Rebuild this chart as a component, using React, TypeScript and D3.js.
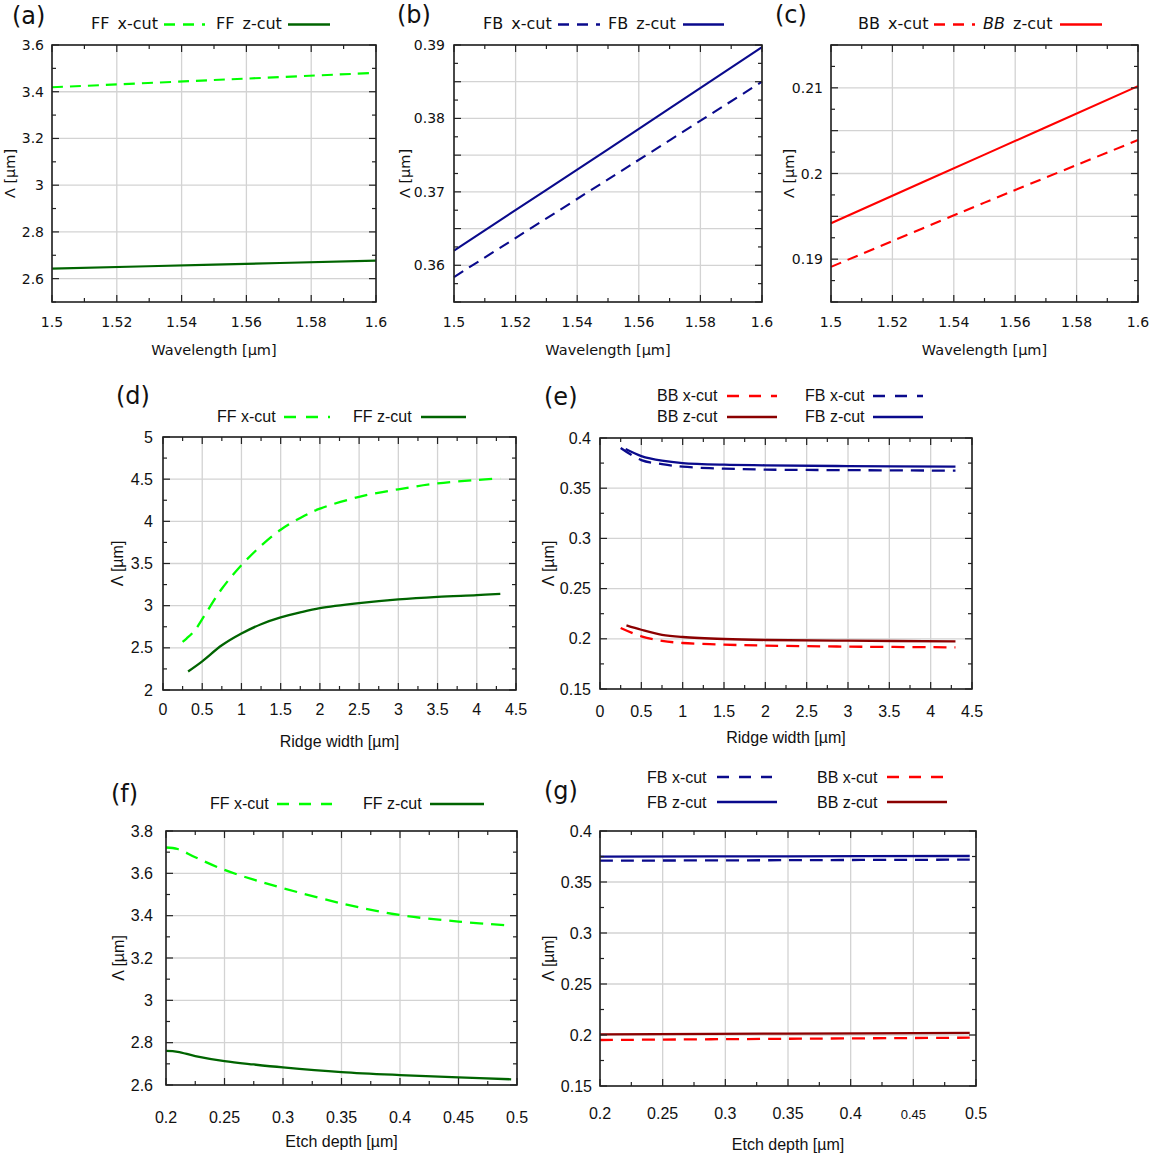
import * as d3 from 'd3';

// ---- colours ----
const GREEN = '#00ff00';
const DKGREEN = '#006400';
const NAVY = '#0a0a8c';
const RED = '#ff0000';
const DKRED = '#8b0000';

// ---- (a)(b)(c) wavelength sweeps ----
const wavelength = [1.5, 1.55, 1.6];
const ffXcutWl = [3.419, 3.45, 3.481];
const ffZcutWl = [2.643, 2.66, 2.677];
const fbXcutWl = [0.3584, 0.3717, 0.385];
const fbZcutWl = [0.362, 0.3758, 0.3897];
const bbXcutWl = [0.1891, 0.1966, 0.2039];
const bbZcutWl = [0.1942, 0.2022, 0.2102];

// ---- (d)(e) ridge width sweeps ----
const widthFFx = [0.25, 0.3, 0.4, 0.5, 0.75, 1, 1.25, 1.5, 1.75, 2, 2.5, 3, 3.5, 4, 4.3];
const ffXcutW = [2.57, 2.61, 2.7, 2.84, 3.2, 3.48, 3.71, 3.9, 4.04, 4.15, 4.29, 4.38, 4.45, 4.49, 4.51];
const widthFFz = [0.32, 0.5, 0.75, 1, 1.25, 1.5, 1.75, 2, 2.5, 3, 3.5, 4, 4.3];
const ffZcutW = [2.22, 2.34, 2.53, 2.67, 2.78, 2.86, 2.92, 2.97, 3.03, 3.075, 3.105, 3.125, 3.14];
const widthX = [0.25, 0.5, 0.75, 1, 1.5, 2, 3, 4.3];
const widthZ = [0.31, 0.5, 0.75, 1, 1.5, 2, 3, 4.3];
const widthBBz = [0.32, 0.5, 0.75, 1, 1.5, 2, 3, 4.3];
const fbXcutW = [0.39, 0.378, 0.374, 0.3714, 0.3695, 0.3685, 0.368, 0.3675];
const fbZcutW = [0.389, 0.382, 0.3774, 0.375, 0.3734, 0.3728, 0.372, 0.3714];
const bbXcutW = [0.2108, 0.2025, 0.198, 0.1958, 0.1942, 0.1932, 0.1922, 0.1915];
const bbZcutW = [0.2134, 0.209, 0.204, 0.2018, 0.1998, 0.1988, 0.1981, 0.1975];

// ---- (f)(g) etch depth sweeps ----
const depthF = [0.2, 0.21, 0.225, 0.25, 0.275, 0.3, 0.35, 0.4, 0.45, 0.495];
const ffXcutD = [3.722, 3.715, 3.676, 3.616, 3.57, 3.53, 3.458, 3.403, 3.372, 3.353];
const ffZcutD = [2.761, 2.757, 2.737, 2.713, 2.697, 2.683, 2.661, 2.647, 2.636, 2.627];
const depthG = [0.2, 0.35, 0.495];
const fbZcutD = [0.3748, 0.3752, 0.3755];
const fbXcutD = [0.3709, 0.3714, 0.3719];
const bbZcutD = [0.2007, 0.2014, 0.202];
const bbXcutD = [0.1951, 0.1963, 0.1974];

// ---- tick labels ----
const wlTicks = [1.5, 1.52, 1.54, 1.56, 1.58, 1.6];
const ffWlTicks = [2.6, 2.8, 3, 3.2, 3.4, 3.6];
const fbWlTicks = [0.36, 0.37, 0.38, 0.39];
const bbWlTicks = [0.19, 0.2, 0.21];
const widthTicks = [0, 0.5, 1, 1.5, 2, 2.5, 3, 3.5, 4, 4.5];
const ffWTicks = [2, 2.5, 3, 3.5, 4, 4.5, 5];
const smallTicks = [0.15, 0.2, 0.25, 0.3, 0.35, 0.4];
const depthTicks = [0.2, 0.25, 0.3, 0.35, 0.4, 0.45, 0.5];
const ffDTicks = [2.6, 2.8, 3, 3.2, 3.4, 3.6, 3.8];

type Series = { xs: number[]; ys: number[]; color: string; dashed: boolean };
type Legend = { label: any; tx: number; ty: number; sx0: number; sx1: number; sy: number; color: string; dashed: boolean };
type PanelSpec = {
  letter: string; lx: number; ly: number;
  box: [number, number, number, number];
  xDomain: [number, number]; yDomain: [number, number];
  xLabels: number[]; yLabels: number[];
  xGrid: number; xMinor: number; yGrid: number; yMinor: number;
  font: string; tickSize: number; titleSize: number; legendSize: number;
  xTitle: string; xTitleOff: number; xTickOff: number; yTitleX: number; yTickGap: number;
  dash: string; legDash: string; lw: number;
  series: Series[]; legend: Legend[];
  smallLabel?: number;
};

const DV = 'DejaVu Sans';
const LS = 'Liberation Sans, Arial, sans-serif';

const top = { font: DV, tickSize: 14, titleSize: 14.5, legendSize: 16, xTitleOff: 53, xTickOff: 25, dash: '11,7', legDash: '11,8', lw: 2.1 };
const low = { font: LS, tickSize: 16, titleSize: 16, legendSize: 16, dash: '13,8', legDash: '12,10', lw: 2.3 };

const panels: PanelSpec[] = [
  {
    ...top, letter: '(a)', lx: 12, ly: 24, box: [52, 45, 376, 302],
    xDomain: [1.5, 1.6], yDomain: [2.5, 3.6], xLabels: wlTicks, yLabels: ffWlTicks,
    xGrid: 0.02, xMinor: 0.01, yGrid: 0.2, yMinor: 0.1,
    xTitle: 'Wavelength [µm]', yTitleX: 15, yTickGap: 8,
    series: [
      { xs: wavelength, ys: ffXcutWl, color: GREEN, dashed: true },
      { xs: wavelength, ys: ffZcutWl, color: DKGREEN, dashed: false },
    ],
    legend: [
      { label: 'FF x-cut', tx: 91, ty: 29, sx0: 164, sx1: 205, sy: 24.5, color: GREEN, dashed: true },
      { label: 'FF z-cut', tx: 216, ty: 29, sx0: 288, sx1: 330, sy: 24.5, color: DKGREEN, dashed: false },
    ],
  },
  {
    ...top, letter: '(b)', lx: 397, ly: 23, box: [454, 45, 762, 302],
    xDomain: [1.5, 1.6], yDomain: [0.355, 0.39], xLabels: wlTicks, yLabels: fbWlTicks,
    xGrid: 0.02, xMinor: 0.01, yGrid: 0.005, yMinor: 0.0025,
    xTitle: 'Wavelength [µm]', yTitleX: 410, yTickGap: 9,
    series: [
      { xs: wavelength, ys: fbXcutWl, color: NAVY, dashed: true },
      { xs: wavelength, ys: fbZcutWl, color: NAVY, dashed: false },
    ],
    legend: [
      { label: 'FB x-cut', tx: 483, ty: 29, sx0: 558, sx1: 600, sy: 24.5, color: NAVY, dashed: true },
      { label: 'FB z-cut', tx: 608, ty: 29, sx0: 683, sx1: 724, sy: 24.5, color: NAVY, dashed: false },
    ],
  },
  {
    ...top, letter: '(c)', lx: 775, ly: 23, box: [831, 45, 1138, 302],
    xDomain: [1.5, 1.6], yDomain: [0.185, 0.215], xLabels: wlTicks, yLabels: bbWlTicks,
    xGrid: 0.02, xMinor: 0.01, yGrid: 0.005, yMinor: 0.0025,
    xTitle: 'Wavelength [µm]', yTitleX: 794, yTickGap: 8,
    series: [
      { xs: wavelength, ys: bbXcutWl, color: RED, dashed: true },
      { xs: wavelength, ys: bbZcutWl, color: RED, dashed: false },
    ],
    legend: [
      { label: 'BB x-cut', tx: 858, ty: 29, sx0: 934, sx1: 975, sy: 24.5, color: RED, dashed: true },
      { label: [<tspan key="i" fontStyle="italic">BB</tspan>, ' z-cut'], tx: 983, ty: 29, sx0: 1060, sx1: 1102, sy: 24.5, color: RED, dashed: false },
    ],
  },
  {
    ...low, letter: '(d)', lx: 116, ly: 404, box: [163, 437, 516, 690],
    xDomain: [0, 4.5], yDomain: [2, 5], xLabels: widthTicks, yLabels: ffWTicks,
    xGrid: 0.5, xMinor: 0.25, yGrid: 0.5, yMinor: 0.25,
    xTitle: 'Ridge width [µm]', xTitleOff: 57, xTickOff: 25, yTitleX: 123, yTickGap: 10,
    series: [
      { xs: widthFFx, ys: ffXcutW, color: GREEN, dashed: true },
      { xs: widthFFz, ys: ffZcutW, color: DKGREEN, dashed: false },
    ],
    legend: [
      { label: 'FF x-cut', tx: 217, ty: 422, sx0: 284, sx1: 330, sy: 417, color: GREEN, dashed: true },
      { label: 'FF z-cut', tx: 353, ty: 422, sx0: 421, sx1: 466, sy: 417, color: DKGREEN, dashed: false },
    ],
  },
  {
    ...low, letter: '(e)', lx: 544, ly: 405, box: [600, 438, 972, 689],
    xDomain: [0, 4.5], yDomain: [0.15, 0.4], xLabels: widthTicks, yLabels: smallTicks,
    xGrid: 0.5, xMinor: 0.25, yGrid: 0.05, yMinor: 0.025,
    xTitle: 'Ridge width [µm]', xTitleOff: 54, xTickOff: 28, yTitleX: 554, yTickGap: 9,
    series: [
      { xs: widthX, ys: fbXcutW, color: NAVY, dashed: true },
      { xs: widthZ, ys: fbZcutW, color: NAVY, dashed: false },
      { xs: widthX, ys: bbXcutW, color: RED, dashed: true },
      { xs: widthBBz, ys: bbZcutW, color: DKRED, dashed: false },
    ],
    legend: [
      { label: 'BB x-cut', tx: 657, ty: 401, sx0: 727, sx1: 777, sy: 396, color: RED, dashed: true },
      { label: 'BB z-cut', tx: 657, ty: 422, sx0: 727, sx1: 777, sy: 417, color: DKRED, dashed: false },
      { label: 'FB x-cut', tx: 805, ty: 401, sx0: 873, sx1: 923, sy: 396, color: NAVY, dashed: true },
      { label: 'FB z-cut', tx: 805, ty: 422, sx0: 873, sx1: 923, sy: 417, color: NAVY, dashed: false },
    ],
  },
  {
    ...low, letter: '(f)', lx: 111, ly: 802, box: [166, 831, 517, 1085],
    xDomain: [0.2, 0.5], yDomain: [2.6, 3.8], xLabels: depthTicks, yLabels: ffDTicks,
    xGrid: 0.05, xMinor: 0.025, yGrid: 0.2, yMinor: 0.1,
    xTitle: 'Etch depth [µm]', xTitleOff: 62, xTickOff: 38, yTitleX: 124, yTickGap: 13,
    series: [
      { xs: depthF, ys: ffXcutD, color: GREEN, dashed: true },
      { xs: depthF, ys: ffZcutD, color: DKGREEN, dashed: false },
    ],
    legend: [
      { label: 'FF x-cut', tx: 210, ty: 809, sx0: 277, sx1: 332, sy: 804, color: GREEN, dashed: true },
      { label: 'FF z-cut', tx: 363, ty: 809, sx0: 430, sx1: 484, sy: 804, color: DKGREEN, dashed: false },
    ],
  },
  {
    ...low, letter: '(g)', lx: 544, ly: 799, box: [600, 831, 976, 1086],
    xDomain: [0.2, 0.5], yDomain: [0.15, 0.4], xLabels: depthTicks, yLabels: smallTicks,
    xGrid: 0.05, xMinor: 0.025, yGrid: 0.05, yMinor: 0.025,
    xTitle: 'Etch depth [µm]', xTitleOff: 64, xTickOff: 33, yTitleX: 554, yTickGap: 8,
    smallLabel: 0.45,
    series: [
      { xs: depthG, ys: fbXcutD, color: NAVY, dashed: true },
      { xs: depthG, ys: fbZcutD, color: NAVY, dashed: false },
      { xs: depthG, ys: bbXcutD, color: RED, dashed: true },
      { xs: depthG, ys: bbZcutD, color: DKRED, dashed: false },
    ],
    legend: [
      { label: 'FB x-cut', tx: 647, ty: 783, sx0: 717, sx1: 772, sy: 777, color: NAVY, dashed: true },
      { label: 'FB z-cut', tx: 647, ty: 808, sx0: 717, sx1: 777, sy: 802, color: NAVY, dashed: false },
      { label: 'BB x-cut', tx: 817, ty: 783, sx0: 887, sx1: 943, sy: 777, color: RED, dashed: true },
      { label: 'BB z-cut', tx: 817, ty: 808, sx0: 887, sx1: 947, sy: 802, color: DKRED, dashed: false },
    ],
  },
];

const steps = (dom: [number, number], step: number) =>
  d3.range(Math.round(dom[0] / step), Math.round(dom[1] / step) + 1).map(i => +(i * step).toFixed(6));

const fmt = (v: number) => String(+v.toFixed(4));

function Panel({ p }: { p: PanelSpec }) {
  const [x0, y0, x1, y1] = p.box;
  const x = d3.scaleLinear().domain(p.xDomain).range([x0, x1]);
  const y = d3.scaleLinear().domain(p.yDomain).range([y1, y0]);
  const line = d3.line<[number, number]>()
    .x(d => x(d[0]))
    .y(d => y(d[1]))
    .curve(d3.curveCatmullRom.alpha(0.5));

  const xMaj = steps(p.xDomain, p.xGrid);
  const yMaj = steps(p.yDomain, p.yGrid);
  const xMin = steps(p.xDomain, p.xMinor);
  const yMin = steps(p.yDomain, p.yMinor);
  const major = 7, minor = 4;
  const tickStroke = '#222';

  return (
    <g fontFamily={p.font}>
      {/* grid */}
      {xMaj.map(v => (
        <line key={'gx' + v} x1={x(v)} x2={x(v)} y1={y0} y2={y1} stroke="#d3d3d3" strokeWidth={1.3} />
      ))}
      {yMaj.map(v => (
        <line key={'gy' + v} x1={x0} x2={x1} y1={y(v)} y2={y(v)} stroke="#d3d3d3" strokeWidth={1.3} />
      ))}

      {/* curves */}
      {p.series.map((s, i) => (
        <path
          key={'s' + i}
          d={line(s.xs.map((xv, j) => [xv, s.ys[j]] as [number, number])) || ''}
          fill="none"
          stroke={s.color}
          strokeWidth={p.lw}
          strokeDasharray={s.dashed ? p.dash : undefined}
        />
      ))}

      {/* ticks on all four sides */}
      {xMin.map(v => {
        const len = xMaj.some(m => Math.abs(m - v) < 1e-9) ? major : minor;
        return (
          <g key={'tx' + v} stroke={tickStroke} strokeWidth={1.2}>
            <line x1={x(v)} x2={x(v)} y1={y1} y2={y1 - len} />
            <line x1={x(v)} x2={x(v)} y1={y0} y2={y0 + len} />
          </g>
        );
      })}
      {yMin.map(v => {
        const len = yMaj.some(m => Math.abs(m - v) < 1e-9) ? major : minor;
        return (
          <g key={'ty' + v} stroke={tickStroke} strokeWidth={1.2}>
            <line x1={x0} x2={x0 + len} y1={y(v)} y2={y(v)} />
            <line x1={x1} x2={x1 - len} y1={y(v)} y2={y(v)} />
          </g>
        );
      })}

      {/* frame */}
      <rect x={x0} y={y0} width={x1 - x0} height={y1 - y0} fill="none" stroke="#222" strokeWidth={1.6} />

      {/* tick labels */}
      {p.xLabels.map(v => (
        <text key={'lx' + v} x={x(v)} y={y1 + p.xTickOff} textAnchor="middle"
          fontSize={p.smallLabel === v ? p.tickSize - 3 : p.tickSize} fill="#111">
          {fmt(v)}
        </text>
      ))}
      {p.yLabels.map(v => (
        <text key={'ly' + v} x={x0 - p.yTickGap} y={y(v)} textAnchor="end" dominantBaseline="central"
          fontSize={p.tickSize} fill="#111">
          {fmt(v)}
        </text>
      ))}

      {/* axis titles */}
      <text x={(x0 + x1) / 2} y={y1 + p.xTitleOff} textAnchor="middle" fontSize={p.titleSize} fill="#111">
        {p.xTitle}
      </text>
      <text transform={`translate(${p.yTitleX},${(y0 + y1) / 2}) rotate(-90)`} textAnchor="middle"
        fontSize={p.titleSize} fill="#111">
        Λ [µm]
      </text>

      {/* legend */}
      {p.legend.map((l, i) => (
        <g key={'lg' + i}>
          <text x={l.tx} y={l.ty} fontSize={p.legendSize} fill="#111" style={{ wordSpacing: p.font === DV ? '3px' : '0px' }}>
            {l.label}
          </text>
          <line x1={l.sx0} x2={l.sx1} y1={l.sy} y2={l.sy} stroke={l.color} strokeWidth={p.lw + 0.3}
            strokeDasharray={l.dashed ? p.legDash : undefined} />
        </g>
      ))}

      {/* panel letter */}
      <text x={p.lx} y={p.ly} fontFamily={DV} fontSize={24} fill="#111">{p.letter}</text>
    </g>
  );
}

export default function App() {
  return (
    <svg width={1157} height={1157} viewBox="0 0 1157 1157"
      style={{ position: 'absolute', left: 0, top: 0, background: '#fff' }}>
      <rect width={1157} height={1157} fill="#fff" />
      {panels.map(p => <Panel key={p.letter} p={p} />)}
    </svg>
  );
}
